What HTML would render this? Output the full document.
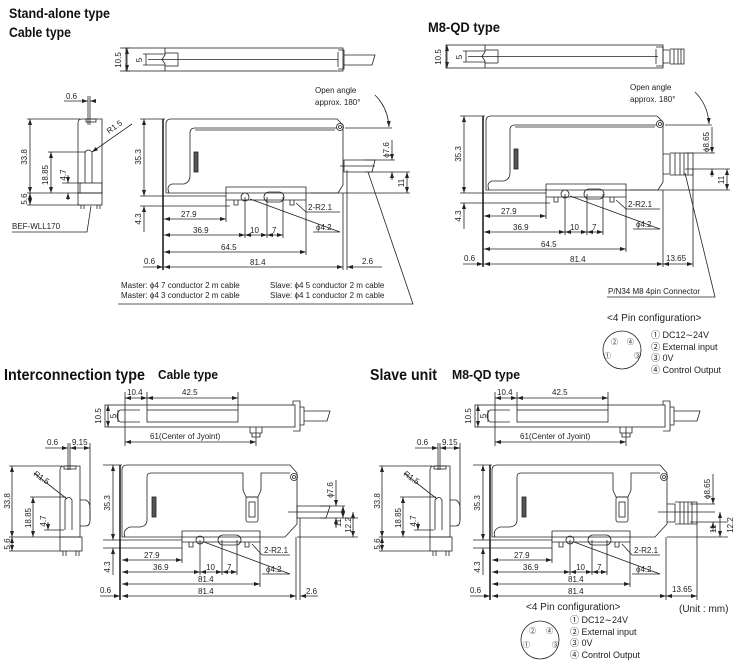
<!DOCTYPE html>
<html><head><meta charset="utf-8"><style>
html,body{margin:0;padding:0;background:#fff;}
svg{display:block;}
text{font-family:"Liberation Sans","Noto Sans CJK JP",sans-serif;fill:#222;font-size:8px;}
.t{font-weight:bold;font-size:14px;fill:#111;}
.t2{font-weight:bold;font-size:12.5px;fill:#111;}
.s{font-size:9px;}
.p{font-size:10px;}
</style></head><body>
<svg width="744" height="671" viewBox="0 0 744 671" xmlns="http://www.w3.org/2000/svg">
<defs>
<marker id="a" markerWidth="6" markerHeight="4" refX="6" refY="2" orient="auto-start-reverse" markerUnits="userSpaceOnUse"><path d="M0 0L6 2L0 4z" fill="#222"/></marker>
</defs>

<text class="t" x="9" y="18" textLength="101" lengthAdjust="spacingAndGlyphs">Stand-alone type</text>
<text class="t" x="9" y="37" textLength="62" lengthAdjust="spacingAndGlyphs">Cable type</text>
<text class="t" x="428" y="32" textLength="72" lengthAdjust="spacingAndGlyphs">M8-QD type</text>
<text class="t" x="4" y="380" style="font-size:16px" textLength="141" lengthAdjust="spacingAndGlyphs">Interconnection type</text>
<text class="t2" x="158" y="379" textLength="60" lengthAdjust="spacingAndGlyphs">Cable type</text>
<text class="t" x="370" y="380" style="font-size:16px" textLength="67" lengthAdjust="spacingAndGlyphs">Slave unit</text>
<text class="t2" x="452" y="379" textLength="68" lengthAdjust="spacingAndGlyphs">M8-QD type</text>

<!-- ================= TOP LEFT ================= -->
<g stroke="#222" fill="none" stroke-width="0.8">
 <rect x="126" y="48" width="217" height="23"/>
 <line x1="148" y1="59.5" x2="338" y2="59.5"/>
 <path d="M165 48V55L162 59.5L165 64V71"/>
 <line x1="178" y1="53" x2="178" y2="66"/>
 <line x1="165" y1="53" x2="178" y2="53"/><line x1="165" y1="66" x2="178" y2="66"/>
 <path d="M338 50H344V69H338M338 52V67"/>
 <path d="M344 55H375L372 65H344"/>
 <line x1="127" y1="48" x2="127" y2="71" marker-start="url(#a)" marker-end="url(#a)"/>
 <line x1="120" y1="48" x2="130" y2="48"/><line x1="120" y1="71" x2="130" y2="71"/>
 <line x1="146" y1="54" x2="146" y2="65"/><line x1="143" y1="54" x2="165" y2="54"/><line x1="143" y1="65" x2="165" y2="65"/>
 <path d="M78 193V123Q78 119 82 119H102V193Z"/>
 <rect x="86" y="119" width="10" height="3"/>
 <path d="M85 183V152Q88 148 92 152V183"/>
 <rect x="80" y="183" width="22" height="10"/>
 <rect x="78" y="193" width="24" height="12"/>
 <path d="M81 205V209M84 205V209M97 205V209M100 205V209"/>
 <line x1="88" y1="96" x2="88" y2="125"/><line x1="90" y1="96" x2="90" y2="125"/>
 <line x1="64" y1="101" x2="88" y2="101" marker-end="url(#a)"/><line x1="90" y1="101" x2="96" y2="101" marker-start="url(#a)"/>
 <line x1="27" y1="119" x2="80" y2="119"/><line x1="27" y1="193" x2="80" y2="193"/><line x1="27" y1="205" x2="80" y2="205"/>
 <line x1="30" y1="119" x2="30" y2="193" marker-start="url(#a)" marker-end="url(#a)"/>
 <line x1="30" y1="193" x2="30" y2="205" marker-start="url(#a)" marker-end="url(#a)"/>
 <line x1="48" y1="152" x2="86" y2="152"/>
 <line x1="51" y1="152" x2="51" y2="193" marker-start="url(#a)" marker-end="url(#a)"/>
 <line x1="62" y1="183" x2="82" y2="183"/>
 <line x1="68" y1="175" x2="68" y2="183" marker-end="url(#a)"/><line x1="68" y1="200" x2="68" y2="193" marker-end="url(#a)"/>
 <line x1="132" y1="124" x2="92" y2="152" marker-end="url(#a)"/>
 <path d="M12 232H87L91 206"/>
 <line x1="163" y1="119" x2="163" y2="270" stroke-width="1.6"/>
 <path d="M166 193V124Q166 119 171 119H337L343 125V185L338 193Z"/>
 <path d="M169 193Q166 186 172 184H184Q190 182 190 176V133Q190 128 195 128H337"/>
 <line x1="195" y1="130" x2="335" y2="130"/>
 <circle cx="340" cy="127" r="3.5"/><circle cx="340" cy="127" r="1.5"/>
 <rect x="194" y="152" width="4" height="20" fill="#555"/>
 <path d="M226 193V187H306V200H226Z"/>
 <circle cx="245" cy="197" r="4"/>
 <rect x="264" y="192" width="20" height="10" rx="5"/>
 <path d="M234 200V205H238V200M290 200V205H294V200"/>
 <line x1="140" y1="119" x2="165" y2="119"/>
 <line x1="140" y1="196" x2="226" y2="196"/>
 <line x1="140" y1="206" x2="230" y2="206"/>
 <line x1="144" y1="119" x2="144" y2="196" marker-start="url(#a)" marker-end="url(#a)"/>
 <line x1="144" y1="206" x2="144" y2="232" marker-start="url(#a)"/>
 <line x1="226" y1="200" x2="226" y2="222"/>
 <line x1="245" y1="197" x2="245" y2="238"/><line x1="267" y1="197" x2="267" y2="238"/><line x1="283" y1="197" x2="283" y2="238"/>
 <line x1="306" y1="200" x2="306" y2="255"/>
 <line x1="343" y1="193" x2="343" y2="270"/><line x1="347" y1="170" x2="347" y2="270"/>
 <line x1="164" y1="219" x2="226" y2="219" marker-start="url(#a)" marker-end="url(#a)"/>
 <line x1="164" y1="235" x2="245" y2="235" marker-start="url(#a)" marker-end="url(#a)"/>
 <line x1="245" y1="235" x2="267" y2="235" marker-start="url(#a)" marker-end="url(#a)"/>
 <line x1="267" y1="235" x2="283" y2="235" marker-start="url(#a)" marker-end="url(#a)"/>
 <line x1="164" y1="252" x2="306" y2="252" marker-start="url(#a)" marker-end="url(#a)"/>
 <line x1="164" y1="267" x2="343" y2="267" marker-start="url(#a)" marker-end="url(#a)"/>
 <line x1="143" y1="267" x2="163" y2="267" marker-end="url(#a)"/>
 <line x1="347" y1="267" x2="382" y2="267" marker-start="url(#a)"/>
 <path d="M344 160H375L372 172H344Z"/><line x1="340" y1="166" x2="375" y2="166"/>
 <line x1="365" y1="160" x2="395" y2="160"/><line x1="365" y1="172" x2="410" y2="172"/><line x1="310" y1="193" x2="410" y2="193"/>
 <line x1="392" y1="140" x2="392" y2="160" marker-end="url(#a)"/><line x1="392" y1="180" x2="392" y2="172" marker-end="url(#a)"/>
 <line x1="407" y1="172" x2="407" y2="193" marker-start="url(#a)" marker-end="url(#a)"/>
 <line x1="345" y1="128" x2="392" y2="128"/>
 <path d="M375 95Q388 108 389 127" marker-end="url(#a)"/>
 <path d="M306 212H340M296 203L306 212"/>
 <path d="M313 232H340L250 199"/>
 <path d="M118 304H413L368 172"/>
</g>
<g>
 <text transform="translate(121,60) rotate(-90)" text-anchor="middle">10.5</text>
 <text transform="translate(142,60) rotate(-90)" text-anchor="middle">5</text>
 <text x="66" y="99">0.6</text>
 <text transform="translate(27,157) rotate(-90)" text-anchor="middle">33.8</text>
 <text transform="translate(27,199) rotate(-90)" text-anchor="middle">5.6</text>
 <text transform="translate(48,175) rotate(-90)" text-anchor="middle">18.85</text>
 <text transform="translate(66,175) rotate(-90)" text-anchor="middle">4.7</text>
 <text transform="translate(109,134) rotate(-35)">R1.5</text>
 <text x="12" y="229">BEF-WLL170</text>
 <text transform="translate(141,157) rotate(-90)" text-anchor="middle">35.3</text>
 <text transform="translate(141,219) rotate(-90)" text-anchor="middle">4.3</text>
 <text x="181" y="217">27.9</text>
 <text x="193" y="233">36.9</text>
 <text x="250" y="233">10</text>
 <text x="272" y="233">7</text>
 <text x="221" y="250">64.5</text>
 <text x="250" y="265">81.4</text>
 <text x="144" y="264">0.6</text>
 <text x="362" y="264">2.6</text>
 <text x="308" y="210">2-R2.1</text>
 <text x="316" y="230">ϕ4.2</text>
 <text transform="translate(389,150) rotate(-90)" text-anchor="middle">ϕ7.6</text>
 <text transform="translate(404,183) rotate(-90)" text-anchor="middle">11</text>
 <text x="315" y="93">Open angle</text>
 <text x="315" y="105">approx. 180°</text>
 <text x="121" y="288">Master:  ϕ4 7 conductor 2 m cable</text>
 <text x="121" y="298">Master:  ϕ4 3 conductor 2 m cable</text>
 <text x="270" y="288">Slave:  ϕ4 5 conductor 2 m cable</text>
 <text x="270" y="298">Slave:  ϕ4 1 conductor 2 m cable</text>
</g>

<!-- ================= TOP RIGHT ================= -->
<g stroke="#222" fill="none" stroke-width="0.8" transform="translate(320,-3)">
 <rect x="126" y="48" width="217" height="23"/>
 <line x1="148" y1="59.5" x2="338" y2="59.5"/>
 <path d="M165 48V55L162 59.5L165 64V71"/>
 <line x1="178" y1="53" x2="178" y2="66"/>
 <line x1="165" y1="53" x2="178" y2="53"/><line x1="165" y1="66" x2="178" y2="66"/>
 <path d="M336 50H343V69H336M336 52V67"/>
 <path d="M343 53H350V66H343M350 52H364V67H350M354 52V67M358 52V67M361 52V67"/>
 <line x1="127" y1="48" x2="127" y2="71" marker-start="url(#a)" marker-end="url(#a)"/>
 <line x1="146" y1="54" x2="146" y2="65"/><line x1="143" y1="54" x2="165" y2="54"/><line x1="143" y1="65" x2="165" y2="65"/>
 <line x1="163" y1="119" x2="163" y2="270" stroke-width="1.6"/>
 <path d="M166 193V124Q166 119 171 119H337L343 125V185L338 193Z"/>
 <path d="M169 193Q166 186 172 184H184Q190 182 190 176V133Q190 128 195 128H337"/>
 <line x1="195" y1="130" x2="335" y2="130"/>
 <circle cx="340" cy="127" r="3.5"/><circle cx="340" cy="127" r="1.5"/>
 <rect x="194" y="152" width="4" height="20" fill="#555"/>
 <path d="M226 193V187H306V200H226Z"/>
 <circle cx="245" cy="197" r="4"/>
 <rect x="264" y="192" width="20" height="10" rx="5"/>
 <path d="M234 200V205H238V200M290 200V205H294V200"/>
 <line x1="140" y1="119" x2="165" y2="119"/>
 <line x1="140" y1="196" x2="226" y2="196"/>
 <line x1="140" y1="206" x2="230" y2="206"/>
 <line x1="144" y1="119" x2="144" y2="196" marker-start="url(#a)" marker-end="url(#a)"/>
 <line x1="144" y1="206" x2="144" y2="232" marker-start="url(#a)"/>
 <line x1="226" y1="200" x2="226" y2="222"/>
 <line x1="245" y1="197" x2="245" y2="238"/><line x1="267" y1="197" x2="267" y2="238"/><line x1="283" y1="197" x2="283" y2="238"/>
 <line x1="306" y1="200" x2="306" y2="255"/>
 <line x1="343" y1="193" x2="343" y2="270"/><line x1="373" y1="172" x2="373" y2="270"/>
 <line x1="164" y1="219" x2="226" y2="219" marker-start="url(#a)" marker-end="url(#a)"/>
 <line x1="164" y1="235" x2="245" y2="235" marker-start="url(#a)" marker-end="url(#a)"/>
 <line x1="245" y1="235" x2="267" y2="235" marker-start="url(#a)" marker-end="url(#a)"/>
 <line x1="267" y1="235" x2="283" y2="235" marker-start="url(#a)" marker-end="url(#a)"/>
 <line x1="164" y1="252" x2="306" y2="252" marker-start="url(#a)" marker-end="url(#a)"/>
 <line x1="164" y1="267" x2="343" y2="267" marker-start="url(#a)" marker-end="url(#a)"/>
 <line x1="143" y1="267" x2="163" y2="267" marker-end="url(#a)"/>
 <line x1="343" y1="267" x2="373" y2="267" marker-start="url(#a)" marker-end="url(#a)"/>
 <path d="M343 157H350V177H343M350 156H373V178H350M355 156V178M360 156V178M364 156V178M368 156V178"/>
 <line x1="365" y1="156" x2="395" y2="156"/><line x1="365" y1="172" x2="410" y2="172"/><line x1="310" y1="193" x2="410" y2="193"/>
 <line x1="392" y1="130" x2="392" y2="156" marker-end="url(#a)"/><line x1="392" y1="180" x2="392" y2="172" marker-end="url(#a)"/>
 <line x1="407" y1="172" x2="407" y2="193" marker-start="url(#a)" marker-end="url(#a)"/>
 <line x1="345" y1="128" x2="392" y2="128"/>
 <path d="M375 95Q388 108 389 127" marker-end="url(#a)"/>
 <path d="M306 212H340M296 203L306 212"/>
 <path d="M313 232H340L250 199"/>
 <path d="M287 300H395L365 176"/>
</g>
<g transform="translate(320,-3)">
 <text transform="translate(121,60) rotate(-90)" text-anchor="middle">10.5</text>
 <text transform="translate(142,60) rotate(-90)" text-anchor="middle">5</text>
 <text transform="translate(141,157) rotate(-90)" text-anchor="middle">35.3</text>
 <text transform="translate(141,219) rotate(-90)" text-anchor="middle">4.3</text>
 <text x="181" y="217">27.9</text>
 <text x="193" y="233">36.9</text>
 <text x="250" y="233">10</text>
 <text x="272" y="233">7</text>
 <text x="221" y="250">64.5</text>
 <text x="250" y="265">81.4</text>
 <text x="144" y="264">0.6</text>
 <text x="346" y="264">13.65</text>
 <text x="308" y="210">2-R2.1</text>
 <text x="316" y="230">ϕ4.2</text>
 <text transform="translate(389,145) rotate(-90)" text-anchor="middle">ϕ8.65</text>
 <text transform="translate(404,183) rotate(-90)" text-anchor="middle">11</text>
 <text x="310" y="93">Open angle</text>
 <text x="310" y="105">approx. 180°</text>
 <text x="288" y="297">P/N34 M8 4pin Connector</text>
</g>
<g>
 <text class="p" x="607" y="321">&lt;4 Pin configuration&gt;</text>
 <circle cx="622" cy="350" r="19" fill="none" stroke="#222" stroke-width="0.8"/>
 <text x="611" y="344" style="font-size:7px">②</text><text x="627" y="344" style="font-size:7px">④</text>
 <text x="604" y="358" style="font-size:7px">①</text><text x="634" y="358" style="font-size:7px">③</text>
 <text class="s" x="651" y="338">① DC12∼24V</text>
 <text class="s" x="651" y="350">② External input</text>
 <text class="s" x="651" y="361">③ 0V</text>
 <text class="s" x="651" y="373">④ Control Output</text>
</g>

<!-- ================= BOTTOM LEFT ================= -->
<g stroke="#222" fill="none" stroke-width="0.8">
 <rect x="105" y="405" width="190" height="22"/>
 <rect x="147" y="410" width="91" height="12"/>
 <path d="M140 410H120Q114 416 120 422H140"/>
 <path d="M293 405V401H300V431H293M300 407H304V425H300"/>
 <path d="M304 411H330L327 421H304"/>
 <path d="M250 427V433H262V427M252 433V437H260V433"/>
 <line x1="108" y1="405" x2="108" y2="427" marker-start="url(#a)" marker-end="url(#a)"/>
 <line x1="118" y1="410" x2="118" y2="422"/>
 <line x1="125" y1="392" x2="125" y2="446"/><line x1="147" y1="392" x2="147" y2="410"/><line x1="238" y1="392" x2="238" y2="410"/><line x1="256" y1="427" x2="256" y2="446"/>
 <line x1="125" y1="398" x2="147" y2="398" marker-start="url(#a)" marker-end="url(#a)"/>
 <line x1="147" y1="398" x2="238" y2="398" marker-start="url(#a)" marker-end="url(#a)"/>
 <line x1="125" y1="442" x2="256" y2="442" marker-start="url(#a)" marker-end="url(#a)"/>
 <path d="M60 537V470Q60 466 64 466H80V537Z"/>
 <rect x="64" y="466" width="12" height="3"/>
 <path d="M65 530V500Q69 495 72 500V530"/>
 <path d="M80 500H86Q90 502 90 508V520Q90 526 86 526H80"/>
 <rect x="60" y="537" width="22" height="14"/>
 <path d="M63 551V556M66 551V556M76 551V556M79 551V556"/>
 <line x1="68" y1="443" x2="68" y2="470"/><line x1="70" y1="443" x2="70" y2="470"/><line x1="90" y1="443" x2="90" y2="520"/>
 <line x1="45" y1="448" x2="68" y2="448" marker-end="url(#a)"/><line x1="70" y1="448" x2="90" y2="448" marker-start="url(#a)" marker-end="url(#a)"/>
 <line x1="9" y1="466" x2="62" y2="466"/><line x1="9" y1="537" x2="60" y2="537"/><line x1="9" y1="551" x2="60" y2="551"/>
 <line x1="12" y1="466" x2="12" y2="537" marker-start="url(#a)" marker-end="url(#a)"/>
 <line x1="12" y1="537" x2="12" y2="551" marker-start="url(#a)" marker-end="url(#a)"/>
 <line x1="30" y1="497" x2="66" y2="497"/>
 <line x1="33" y1="497" x2="33" y2="537" marker-start="url(#a)" marker-end="url(#a)"/>
 <line x1="44" y1="530" x2="64" y2="530"/>
 <line x1="48" y1="522" x2="48" y2="530" marker-end="url(#a)"/>
 <line x1="34" y1="473" x2="67" y2="499"/>
 <line x1="120" y1="465" x2="120" y2="600" stroke-width="1.6"/>
 <path d="M122 537V470Q122 465 127 465H290L297 473V524L285 537Z"/>
 <path d="M125 537Q122 530 130 527H140Q147 526 147 520V477Q147 473 151 473H243V490L246 497H258L261 490V473H290"/>
 <rect x="246" y="497" width="12" height="25" rx="2"/>
 <rect x="249" y="502" width="6" height="15"/>
 <circle cx="294" cy="477" r="3.5"/><circle cx="294" cy="477" r="1.5"/>
 <rect x="152" y="497" width="4" height="20" fill="#555"/>
 <path d="M182 537V531H260V542H182Z"/>
 <circle cx="200" cy="540" r="4"/>
 <rect x="218" y="535" width="23" height="10" rx="5"/>
 <path d="M189 542V547H193V542M245 542V547H249V542"/>
 <line x1="103" y1="465" x2="122" y2="465"/>
 <line x1="103" y1="540" x2="182" y2="540"/>
 <line x1="103" y1="548" x2="182" y2="548"/>
 <line x1="113" y1="465" x2="113" y2="540" marker-start="url(#a)" marker-end="url(#a)"/>
 <line x1="113" y1="548" x2="113" y2="575" marker-start="url(#a)"/>
 <line x1="182" y1="542" x2="182" y2="563"/>
 <line x1="200" y1="540" x2="200" y2="575"/><line x1="222" y1="540" x2="222" y2="575"/><line x1="237" y1="540" x2="237" y2="575"/>
 <line x1="260" y1="542" x2="260" y2="587"/>
 <line x1="296" y1="537" x2="296" y2="600"/><line x1="300" y1="518" x2="300" y2="600"/>
 <line x1="122" y1="560" x2="182" y2="560" marker-start="url(#a)" marker-end="url(#a)"/>
 <line x1="122" y1="572" x2="200" y2="572" marker-start="url(#a)" marker-end="url(#a)"/>
 <line x1="200" y1="572" x2="222" y2="572" marker-start="url(#a)" marker-end="url(#a)"/>
 <line x1="222" y1="572" x2="237" y2="572" marker-start="url(#a)" marker-end="url(#a)"/>
 <line x1="122" y1="584" x2="260" y2="584" marker-start="url(#a)" marker-end="url(#a)"/>
 <line x1="122" y1="596" x2="296" y2="596" marker-start="url(#a)" marker-end="url(#a)"/>
 <line x1="100" y1="596" x2="120" y2="596" marker-end="url(#a)"/>
 <line x1="300" y1="596" x2="318" y2="596" marker-start="url(#a)"/>
 <path d="M297 506H330L326 518H297Z"/><line x1="288" y1="512" x2="345" y2="512"/>
 <line x1="320" y1="506" x2="345" y2="506"/><line x1="320" y1="518" x2="358" y2="518"/><line x1="297" y1="537" x2="358" y2="537"/>
 <line x1="336" y1="480" x2="336" y2="506" marker-end="url(#a)"/><line x1="336" y1="528" x2="336" y2="518" marker-end="url(#a)"/>
 <line x1="343" y1="506" x2="343" y2="518" marker-start="url(#a)" marker-end="url(#a)"/>
 <line x1="353" y1="512" x2="353" y2="537" marker-start="url(#a)" marker-end="url(#a)"/>
 <path d="M262 555H290M252 544L262 555"/>
 <path d="M262 574H290L204 542"/>
</g>
<g>
 <text x="127" y="395">10.4</text>
 <text x="182" y="395">42.5</text>
 <text transform="translate(101,416) rotate(-90)" text-anchor="middle">10.5</text>
 <text transform="translate(116,416) rotate(-90)" text-anchor="middle">5</text>
 <text x="150" y="439">61(Center of Jyoint)</text>
 <text x="47" y="445">0.6</text>
 <text x="72" y="445">9.15</text>
 <text transform="translate(10,501) rotate(-90)" text-anchor="middle">33.8</text>
 <text transform="translate(10,544) rotate(-90)" text-anchor="middle">5.6</text>
 <text transform="translate(31,518) rotate(-90)" text-anchor="middle">18.85</text>
 <text transform="translate(46,521) rotate(-90)" text-anchor="middle">4.7</text>
 <text transform="translate(33,475) rotate(35)">R1.5</text>
 <text transform="translate(110,503) rotate(-90)" text-anchor="middle">35.3</text>
 <text transform="translate(110,567) rotate(-90)" text-anchor="middle">4.3</text>
 <text x="144" y="558">27.9</text>
 <text x="153" y="570">36.9</text>
 <text x="206" y="570">10</text>
 <text x="227" y="570">7</text>
 <text x="198" y="582">81.4</text>
 <text x="198" y="594">81.4</text>
 <text x="100" y="593">0.6</text>
 <text x="306" y="594">2.6</text>
 <text x="264" y="553">2-R2.1</text>
 <text x="266" y="572">ϕ4.2</text>
 <text transform="translate(333,490) rotate(-90)" text-anchor="middle">ϕ7.6</text>
 <text transform="translate(341,523) rotate(-90)" text-anchor="middle">11</text>
 <text transform="translate(351,525) rotate(-90)" text-anchor="middle">12.2</text>
</g>

<!-- ================= BOTTOM RIGHT ================= -->
<g stroke="#222" fill="none" stroke-width="0.8" transform="translate(370,0)">
 <rect x="105" y="405" width="190" height="22"/>
 <rect x="147" y="410" width="91" height="12"/>
 <path d="M140 410H120Q114 416 120 422H140"/>
 <path d="M293 405V401H300V431H293M300 407H304V425H300"/>
 <path d="M304 411H330L327 421H304"/>
 <path d="M250 427V433H262V427M252 433V437H260V433"/>
 <line x1="108" y1="405" x2="108" y2="427" marker-start="url(#a)" marker-end="url(#a)"/>
 <line x1="118" y1="410" x2="118" y2="422"/>
 <line x1="125" y1="392" x2="125" y2="446"/><line x1="147" y1="392" x2="147" y2="410"/><line x1="238" y1="392" x2="238" y2="410"/><line x1="256" y1="427" x2="256" y2="446"/>
 <line x1="125" y1="398" x2="147" y2="398" marker-start="url(#a)" marker-end="url(#a)"/>
 <line x1="147" y1="398" x2="238" y2="398" marker-start="url(#a)" marker-end="url(#a)"/>
 <line x1="125" y1="442" x2="256" y2="442" marker-start="url(#a)" marker-end="url(#a)"/>
 <path d="M60 537V470Q60 466 64 466H80V537Z"/>
 <rect x="64" y="466" width="12" height="3"/>
 <path d="M65 530V500Q69 495 72 500V530"/>
 <path d="M80 500H86Q90 502 90 508V520Q90 526 86 526H80"/>
 <rect x="60" y="537" width="22" height="14"/>
 <path d="M63 551V556M66 551V556M76 551V556M79 551V556"/>
 <line x1="68" y1="443" x2="68" y2="470"/><line x1="70" y1="443" x2="70" y2="470"/><line x1="90" y1="443" x2="90" y2="520"/>
 <line x1="45" y1="448" x2="68" y2="448" marker-end="url(#a)"/><line x1="70" y1="448" x2="90" y2="448" marker-start="url(#a)" marker-end="url(#a)"/>
 <line x1="9" y1="466" x2="62" y2="466"/><line x1="9" y1="537" x2="60" y2="537"/><line x1="9" y1="551" x2="60" y2="551"/>
 <line x1="12" y1="466" x2="12" y2="537" marker-start="url(#a)" marker-end="url(#a)"/>
 <line x1="12" y1="537" x2="12" y2="551" marker-start="url(#a)" marker-end="url(#a)"/>
 <line x1="30" y1="497" x2="66" y2="497"/>
 <line x1="33" y1="497" x2="33" y2="537" marker-start="url(#a)" marker-end="url(#a)"/>
 <line x1="44" y1="530" x2="64" y2="530"/>
 <line x1="48" y1="522" x2="48" y2="530" marker-end="url(#a)"/>
 <line x1="34" y1="473" x2="67" y2="499"/>
 <line x1="120" y1="465" x2="120" y2="600" stroke-width="1.6"/>
 <path d="M122 537V470Q122 465 127 465H290L297 473V524L285 537Z"/>
 <path d="M125 537Q122 530 130 527H140Q147 526 147 520V477Q147 473 151 473H243V490L246 497H258L261 490V473H290"/>
 <rect x="246" y="497" width="12" height="25" rx="2"/>
 <rect x="249" y="502" width="6" height="15"/>
 <circle cx="294" cy="477" r="3.5"/><circle cx="294" cy="477" r="1.5"/>
 <rect x="152" y="497" width="4" height="20" fill="#555"/>
 <path d="M182 537V531H260V542H182Z"/>
 <circle cx="200" cy="540" r="4"/>
 <rect x="218" y="535" width="23" height="10" rx="5"/>
 <path d="M189 542V547H193V542M245 542V547H249V542"/>
 <line x1="103" y1="465" x2="122" y2="465"/>
 <line x1="103" y1="540" x2="182" y2="540"/>
 <line x1="103" y1="548" x2="182" y2="548"/>
 <line x1="113" y1="465" x2="113" y2="540" marker-start="url(#a)" marker-end="url(#a)"/>
 <line x1="113" y1="548" x2="113" y2="575" marker-start="url(#a)"/>
 <line x1="182" y1="542" x2="182" y2="563"/>
 <line x1="200" y1="540" x2="200" y2="575"/><line x1="222" y1="540" x2="222" y2="575"/><line x1="237" y1="540" x2="237" y2="575"/>
 <line x1="260" y1="542" x2="260" y2="587"/>
 <line x1="296" y1="537" x2="296" y2="600"/><line x1="327" y1="522" x2="327" y2="600"/>
 <line x1="122" y1="560" x2="182" y2="560" marker-start="url(#a)" marker-end="url(#a)"/>
 <line x1="122" y1="572" x2="200" y2="572" marker-start="url(#a)" marker-end="url(#a)"/>
 <line x1="200" y1="572" x2="222" y2="572" marker-start="url(#a)" marker-end="url(#a)"/>
 <line x1="222" y1="572" x2="237" y2="572" marker-start="url(#a)" marker-end="url(#a)"/>
 <line x1="122" y1="584" x2="260" y2="584" marker-start="url(#a)" marker-end="url(#a)"/>
 <line x1="122" y1="596" x2="296" y2="596" marker-start="url(#a)" marker-end="url(#a)"/>
 <line x1="100" y1="596" x2="120" y2="596" marker-end="url(#a)"/>
 <line x1="296" y1="596" x2="327" y2="596" marker-start="url(#a)" marker-end="url(#a)"/>
 <path d="M297 504H305V522H297M305 502H327V524H305M310 502V524M314 502V524M318 502V524M322 502V524"/>
 <line x1="288" y1="512" x2="345" y2="512"/>
 <line x1="320" y1="504" x2="345" y2="504"/><line x1="320" y1="522" x2="358" y2="522"/><line x1="297" y1="537" x2="358" y2="537"/>
 <line x1="343" y1="474" x2="343" y2="504" marker-end="url(#a)"/><line x1="343" y1="532" x2="343" y2="522" marker-end="url(#a)"/>
 <line x1="350" y1="512" x2="350" y2="537" marker-start="url(#a)" marker-end="url(#a)"/>
 <path d="M262 555H290M252 544L262 555"/>
 <path d="M262 574H290L204 542"/>
</g>
<g transform="translate(370,0)">
 <text x="127" y="395">10.4</text>
 <text x="182" y="395">42.5</text>
 <text transform="translate(101,416) rotate(-90)" text-anchor="middle">10.5</text>
 <text transform="translate(116,416) rotate(-90)" text-anchor="middle">5</text>
 <text x="150" y="439">61(Center of Jyoint)</text>
 <text x="47" y="445">0.6</text>
 <text x="72" y="445">9.15</text>
 <text transform="translate(10,501) rotate(-90)" text-anchor="middle">33.8</text>
 <text transform="translate(10,544) rotate(-90)" text-anchor="middle">5.6</text>
 <text transform="translate(31,518) rotate(-90)" text-anchor="middle">18.85</text>
 <text transform="translate(46,521) rotate(-90)" text-anchor="middle">4.7</text>
 <text transform="translate(33,475) rotate(35)">R1.5</text>
 <text transform="translate(110,503) rotate(-90)" text-anchor="middle">35.3</text>
 <text transform="translate(110,567) rotate(-90)" text-anchor="middle">4.3</text>
 <text x="144" y="558">27.9</text>
 <text x="153" y="570">36.9</text>
 <text x="206" y="570">10</text>
 <text x="227" y="570">7</text>
 <text x="198" y="582">81.4</text>
 <text x="198" y="594">81.4</text>
 <text x="100" y="593">0.6</text>
 <text x="302" y="592">13.65</text>
 <text x="264" y="553">2-R2.1</text>
 <text x="266" y="572">ϕ4.2</text>
 <text transform="translate(340,489) rotate(-90)" text-anchor="middle">ϕ8.65</text>
 <text transform="translate(346,529) rotate(-90)" text-anchor="middle">11</text>
 <text transform="translate(363,525) rotate(-90)" text-anchor="middle">12.2</text>
</g>
<g>
 <text class="p" x="526" y="610">&lt;4 Pin configuration&gt;</text>
 <text class="p" x="679" y="612">(Unit : mm)</text>
 <circle cx="540" cy="640" r="19" fill="none" stroke="#222" stroke-width="0.8"/>
 <text x="529" y="633" style="font-size:7px">②</text><text x="546" y="633" style="font-size:7px">④</text>
 <text x="523" y="647" style="font-size:7px">①</text><text x="552" y="647" style="font-size:7px">③</text>
 <text class="s" x="570" y="623">① DC12∼24V</text>
 <text class="s" x="570" y="635">② External input</text>
 <text class="s" x="570" y="646">③ 0V</text>
 <text class="s" x="570" y="658">④ Control Output</text>
</g>
</svg>
</body></html>
